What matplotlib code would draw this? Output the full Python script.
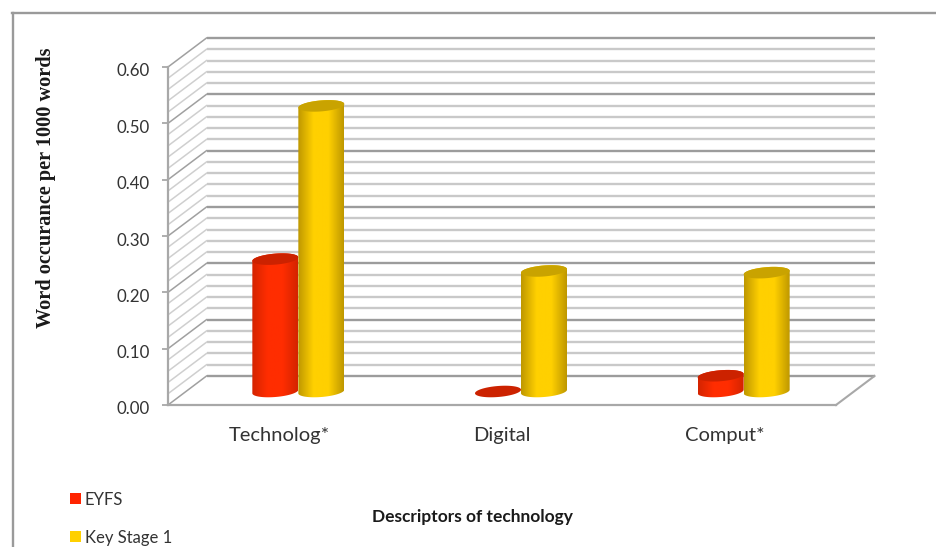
import numpy as np
import matplotlib
matplotlib.use("Agg")
import matplotlib.pyplot as plt
from matplotlib.colors import LinearSegmentedColormap
from matplotlib.patches import Polygon, Rectangle
from matplotlib.lines import Line2D
from matplotlib.transforms import ScaledTranslation

categories = ["Technolog*", "Digital", "Comput*"]
eyfs = [0.235, 0.0, 0.028]
key_stage_1 = [0.507, 0.214, 0.211]
y_ticks = [0.0, 0.1, 0.2, 0.3, 0.4, 0.5, 0.6]

W, H = 936, 547
fig = plt.figure(figsize=(W / 100, H / 100), dpi=100)
L, R, T, B = 168, 836, 67, 405
ax = fig.add_axes([L / W, 1 - B / H, (R - L) / W, (B - T) / H])
ax.set_xlim(0, 3)
ax.set_ylim(0, 0.6)
ax.patch.set_alpha(0)

# conversions from pixels to data units
px = 3 / (R - L)
py = 0.6 / (B - T)
DX, DY = 38.5 * px, 29 * py

SANS = "Lato"
# Walls and floor
for v in np.arange(0, 0.6001, 0.02):
    major = abs(v / 0.1 - round(v / 0.1)) < 1e-6
    col = "#9c9c9c" if major else "#c9c9c9"
    ax.plot([DX, 3 + DX], [v + DY] * 2, color=col, lw=1.7, clip_on=False, zorder=1,
            solid_capstyle="butt")
    ax.plot([0, DX], [v, v + DY], color="#a0a0a0" if major else "#cfcfcf",
            lw=1.1, clip_on=False, zorder=1)
ax.plot([3, 3 + DX], [0, DY], color="#a8a8a8", lw=1.5, clip_on=False, zorder=2)

for s in ("top", "right"):
    ax.spines[s].set_visible(False)
for s in ("left", "bottom"):
    ax.spines[s].set_color("#a8a8a8")
    ax.spines[s].set_linewidth(1.6)
    ax.spines[s].set_zorder(3)
ax.set_yticks(y_ticks, [f"{v:.2f}" for v in y_ticks], fontsize=12.2, family=SANS, color="#333333")
ax.set_xticks([0.5, 1.5, 2.5], categories, fontsize=14.5, family=SANS, color="#333333")
ax.tick_params(axis="y", length=4, width=1.3, color="#a8a8a8", pad=9)
ax.tick_params(axis="x", length=0, pad=16)
shift = ScaledTranslation(0, -3 / 100, fig.dpi_scale_trans)
for lab in ax.get_yticklabels():
    lab.set_transform(lab.get_transform() + shift)

# Cylinders
rw = 23 * px
rh = 5.5 * py
tilt = 1.8 * py
t = np.linspace(0, 2 * np.pi, 121)


def ring(cx, cy):
    return np.column_stack([cx + rw * np.cos(t), cy + rh * np.sin(t) + tilt * np.cos(t)])


def cmap_for(edge, mid):
    return LinearSegmentedColormap.from_list("c", [edge, mid, mid, edge], N=64)


def cylinder(cx, value, edge, mid, top, z):
    base = 13.5 * py
    ring_b = ring(cx, base)
    ring_t = ring(cx, base + value)
    if value > 0.002:
        lower = ring_b[(t >= np.pi) & (t <= 2 * np.pi)]
        upper = ring_t[(t >= 0) & (t <= np.pi)]
        body = np.vstack([lower, upper])
        poly = Polygon(body, closed=True, fc="none", ec="none", zorder=z)
        ax.add_patch(poly)
        g = np.linspace(0, 1, 64)[None, :]
        im = ax.imshow(g, cmap=cmap_for(edge, mid), aspect="auto", zorder=z,
                       extent=[cx - rw, cx + rw, base - rh * 2, base + value + rh * 2])
        im.set_clip_path(poly)
    ax.add_patch(Polygon(ring_t, closed=True, fc=top, ec="none", zorder=z + 0.1))


GROUP = [0.5, 1.5, 2.5]
for c, a, b in zip(GROUP, eyfs, key_stage_1):
    cylinder(c + (DX - 0.5 * px) / 2 - rw, a, "#d42400", "#ff2d00", "#cc2200", 5)
    cylinder(c + (DX - 0.5 * px) / 2 + rw, b, "#bf9800", "#ffd000", "#c9a300", 6)
ax.set_xlim(0, 3)
ax.set_ylim(0, 0.6)

# Frame lines of the surrounding chart area
fig.add_artist(Line2D([12.5 / W, 12.5 / W], [0, 1 - 12.5 / H], color="#9a9a9a", lw=1.7))
fig.add_artist(Line2D([12 / W, 1], [1 - 12.5 / H] * 2, color="#9a9a9a", lw=1.7))

# Titles
fig.text(46.5 / W, 1 - 188 / H, "Word occurance per 1000 words", rotation=90, ha="center", va="center",
         family="Liberation Serif", weight="bold", fontsize=14.6, color="#1a1a1a")
fig.text(472 / W, 1 - 517 / H, "Descriptors of technology", ha="center", va="center",
         family=SANS, weight="bold", fontsize=12.5, color="#1a1a1a")

# Legend
for y, col, lab in [(498, "#ff2400", "EYFS"), (536, "#ffd000", "Key Stage 1")]:
    fig.add_artist(Rectangle((70 / W, 1 - (y + 5.5) / H), 11 / W, 11 / H, transform=fig.transFigure,
                             fc=col, ec="none"))
    fig.text(85 / W, 1 - (y + 2) / H, lab, ha="left", va="center", family=SANS, fontsize=12,
             color="#333333")

fig.savefig("out.png", dpi=100)
